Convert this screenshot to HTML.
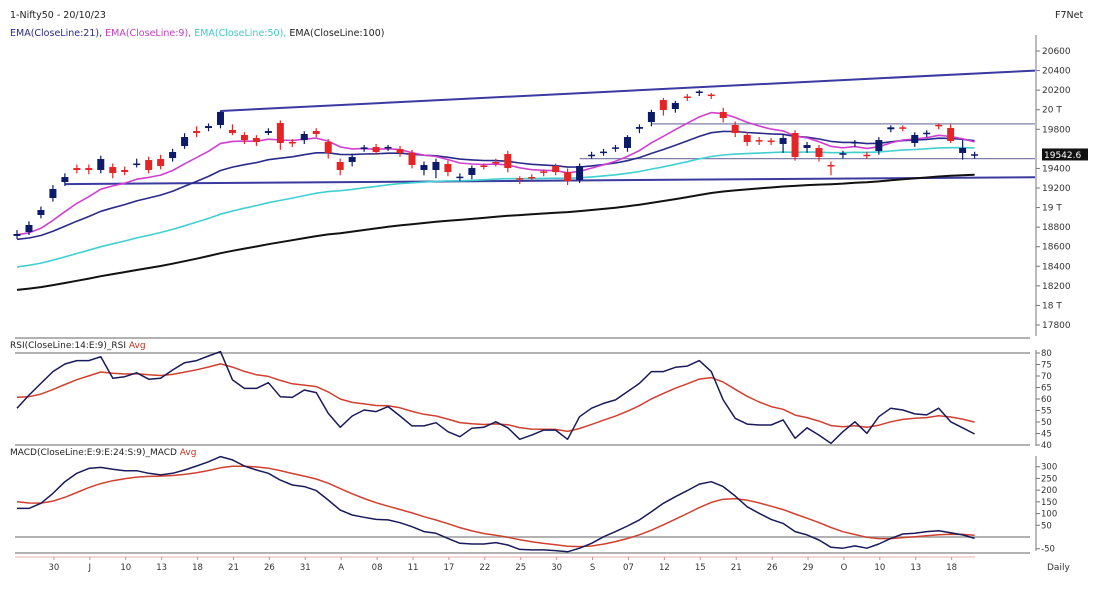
<!DOCTYPE html>
<html><head><meta charset="utf-8"><style>
html,body{margin:0;padding:0;background:#fff;}
svg{display:block;font-family:"DejaVu Sans","Liberation Sans",sans-serif;}
</style></head><body>
<svg id="c" width="1102" height="595" viewBox="0 0 1102 595">
<text x="10" y="18" font-size="9.5" fill="#222">1-Nifty50 - 20/10/23</text>
<text x="10" y="36" font-size="9.5"><tspan fill="#2a2a8a">EMA(CloseLine:21), </tspan><tspan fill="#c040c0">EMA(CloseLine:9), </tspan><tspan fill="#40c8c8">EMA(CloseLine:50), </tspan><tspan fill="#222">EMA(CloseLine:100)</tspan></text>
<text x="1055" y="18" font-size="9.5" fill="#222">F7Net</text>
<text x="10" y="348" font-size="9"><tspan fill="#222">RSI(CloseLine:14:E:9)_RSI </tspan><tspan fill="#c03020">Avg</tspan></text>
<text x="10" y="455" font-size="9"><tspan fill="#222">MACD(CloseLine:E:9:E:24:S:9)_MACD </tspan><tspan fill="#c03020">Avg</tspan></text>
<text x="1047" y="570" font-size="9" fill="#333">Daily</text>
<g id="g"></g>
</svg>
<script>
const opens=[18710,18750,18924,19098,19261,19404,19404,19384,19414,19384,19445,19486,19496,19506,19629,19782,19813,19844,19793,19742,19711,19762,19864,19670,19690,19782,19670,19466,19466,19598,19619,19605,19598,19558,19384,19384,19445,19312,19333,19430,19466,19547,19300,19312,19370,19425,19363,19282,19537,19568,19600,19609,19805,19874,20099,20007,20135,20176,20155,19977,19844,19742,19690,19685,19650,19762,19609,19609,19435,19540,19655,19540,19578,19800,19820,19660,19762,19845,19813,19558,19540];
const closes=[18730,18822,18975,19190,19312,19384,19384,19496,19353,19363,19450,19384,19425,19568,19721,19762,19833,19977,19762,19690,19670,19782,19660,19665,19752,19752,19558,19384,19517,19615,19568,19620,19558,19435,19435,19466,19363,19316,19404,19420,19462,19404,19285,19310,19355,19363,19271,19425,19540,19572,19615,19721,19823,19977,19997,20069,20125,20186,20145,19915,19762,19670,19688,19675,19711,19517,19639,19517,19432,19555,19670,19530,19690,19820,19810,19742,19765,19835,19680,19609,19545];
const highs=[18770,18860,19010,19230,19350,19440,19440,19530,19450,19420,19500,19520,19540,19600,19760,19830,19860,19990,19850,19770,19740,19810,19890,19700,19780,19810,19700,19500,19550,19640,19650,19640,19630,19590,19470,19500,19480,19350,19430,19450,19500,19580,19320,19340,19390,19450,19400,19450,19570,19600,19640,19740,19850,20000,20120,20090,20160,20200,20170,20020,19880,19770,19720,19710,19750,19790,19670,19640,19470,19580,19690,19570,19720,19840,19840,19770,19790,19860,19850,19690,19570];
const lows=[18680,18720,18890,19060,19220,19350,19340,19350,19300,19330,19410,19350,19390,19470,19600,19720,19780,19810,19740,19650,19630,19740,19590,19620,19650,19720,19500,19330,19420,19570,19540,19580,19520,19400,19330,19300,19320,19270,19290,19390,19420,19360,19240,19270,19320,19330,19230,19250,19500,19530,19570,19570,19760,19830,19940,19970,20090,20140,20110,19870,19720,19630,19640,19640,19560,19480,19560,19470,19330,19500,19620,19500,19540,19770,19780,19620,19720,19800,19660,19490,19500];
const rsiValues=[56.0,61.7,66.8,71.9,75.2,76.7,76.7,78.4,69.0,69.7,71.4,68.6,69.0,72.6,75.8,76.7,78.7,80.6,68.3,64.6,64.6,67.1,61.0,60.7,63.9,62.8,53.8,47.7,52.6,55.2,54.5,56.7,52.6,48.3,48.3,49.7,45.8,43.6,47.3,47.7,50.1,47.5,42.5,44.3,46.5,46.5,42.5,52.3,56.0,58.1,59.6,63.2,66.8,71.9,71.9,73.8,74.3,76.7,71.9,59.6,51.6,49.1,48.7,48.7,50.9,42.9,47.5,44.3,40.7,45.8,50.1,45.1,52.3,56.0,55.2,53.5,53.1,56.0,50.1,47.5,44.8];
const macdValues=[122,122,144,186,236,272,293,297,289,283,283,272,265,272,286,303,321,343,329,303,286,272,243,222,215,198,158,115,94,84,75,73,61,44,23,16,-6,-27,-30,-30,-24,-34,-53,-55,-55,-58,-63,-48,-27,1,23,47,73,108,144,172,198,226,236,215,175,129,101,75,58,23,9,-13,-44,-48,-38,-48,-30,-6,13,16,23,27,18,9,-6];
const emaSeeds=[18720,18670,18380,18147];
const emaPeriods=[9,21,50,100];
const rsiAvgSeed=62, macdAvgSeed=158;
const dateLabels=["30","J","10","13","18","21","26","31","A","08","11","17","22","25","30","S","07","12","15","21","26","29","O","10","13","18"];
const priceTicks=[20600,20400,20200,20000,19800,19400,19200,19000,18800,18600,18400,18200,18000,17800];
const priceTickLabels=["20600","20400","20200","20 T","19800","19400","19200","19 T","18800","18600","18400","18200","18 T","17800"];
const rsiTicks=[80,75,70,65,60,55,50,45,40];
const macdTicks=[300,250,200,150,100,50,-50];
const lastPrice=19542.6;

const NS="http://www.w3.org/2000/svg", G=document.getElementById('g');
const X=i=>17+i*11.97;
const yP=p=>51+(20600-p)*274/2800;
const yR=v=>353+(80-v)*92/40;
const yM=v=>537-v*82/350;
function mk(t,a,name,parent){const e=document.createElementNS(NS,t);for(const k in a)e.setAttribute(k,a[k]);


(parent||G).appendChild(e);return e;}
function ema(arr,n,seed){const a=2/(n+1);let v=seed;return arr.map(x=>v=v+a*(x-v));}
function poly(vals,fy,col,w,name){mk('polyline',{points:vals.map((v,i)=>X(i).toFixed(1)+','+fy(v).toFixed(1)).join(' '),fill:'none',stroke:col,'stroke-width':w,'stroke-linejoin':'round'},name);}

// frame lines
[[338],[353],[445],[537],[553]].forEach(([y],k)=>mk('line',{x1:15,x2:1030,y1:y,y2:y,stroke:'#999','stroke-width':1.5},'pane-border-'+k));
mk('line',{x1:1036,x2:1036,y1:35,y2:336,stroke:'#777'},'price-axis-line');
mk('line',{x1:1036,x2:1036,y1:350,y2:446,stroke:'#777'},'rsi-axis-line');
mk('line',{x1:1036,x2:1036,y1:456,y2:551,stroke:'#777'},'macd-axis-line');
priceTicks.forEach((p,k)=>{const y=yP(p);mk('line',{x1:1036,x2:1040,y1:y,y2:y,stroke:'#777'},'price-tick');
 const t=mk('text',{x:1042,y:y+3,'font-size':9,fill:'#333'},'price-tick-label');t.textContent=priceTickLabels[k];});
rsiTicks.forEach(v=>{const y=yR(v);mk('line',{x1:1036,x2:1040,y1:y,y2:y,stroke:'#777'},'rsi-tick');
 const t=mk('text',{x:1041,y:y+3,'font-size':8.5,fill:'#333'},'rsi-tick-label');t.textContent=v;});
macdTicks.forEach(v=>{const y=yM(v);mk('line',{x1:1036,x2:1040,y1:y,y2:y,stroke:'#777'},'macd-tick');
 const t=mk('text',{x:1041,y:y+3,'font-size':8.5,fill:'#333'},'macd-tick-label');t.textContent=v;});
// x axis
mk('line',{x1:15,x2:975,y1:557,y2:557,stroke:'#e8b0b0'},'x-axis-line');
dateLabels.forEach((d,k)=>{const x=X(3+3*k)+1;mk('line',{x1:x,x2:x,y1:557,y2:560,stroke:'#d09090'},'x-tick');
 const t=mk('text',{x:x,y:570,'font-size':8.5,fill:'#333','text-anchor':'middle'},'x-tick-label');t.textContent=d;});

// trend lines
mk('line',{x1:X(17),y1:yP(19977)-1,x2:1035,y2:yP(20400),stroke:'#3a3aa0','stroke-width':2},'upper-trendline');
mk('line',{x1:X(4),y1:yP(19240),x2:1035,y2:yP(19310),stroke:'#3a3aa0','stroke-width':2},'lower-trendline');
mk('line',{x1:X(53),y1:yP(19855),x2:1035,y2:yP(19855),stroke:'#8080a8','stroke-width':1.3},'resistance-line');
mk('line',{x1:X(47),y1:yP(19500),x2:1035,y2:yP(19500),stroke:'#8080a8','stroke-width':1.3},'support-line');

// EMAs
const emaCols=['#d040d0','#2a2a8a','#40d0d0','#111'];
const emaNames=['ema-9-line','ema-21-line','ema-50-line','ema-100-line'];
[3,2,1,0].forEach(k=>poly(ema(closes,emaPeriods[k],emaSeeds[k]),yP,emaCols[k],k==3?2:1.6,emaNames[k]));

// candles
closes.forEach((c,i)=>{const o=opens[i],up=c>=o,col=up?'#0c1a6a':'#e52525',x=X(i);
 mk('line',{x1:x,x2:x,y1:yP(highs[i]),y2:yP(lows[i]),stroke:col,'stroke-width':1.2},'candle-wick');
 const top=yP(Math.max(o,c)),h=Math.max(1.5,yP(Math.min(o,c))-top);
 mk('rect',{x:x-3.5,y:top,width:7,height:h,fill:col},up?'candle-up':'candle-down');});

// last price tag
const ly=yP(lastPrice);
mk('rect',{x:1042,y:ly-6,width:46,height:12,fill:'#111'},'last-price-tag');
const lt=mk('text',{x:1044,y:ly+3.5,'font-size':9,fill:'#fff'},'last-price-text');lt.textContent=lastPrice;

// RSI
poly(ema(rsiValues,9,rsiAvgSeed),yR,'#d04030',1.5,'rsi-avg-line');
poly(rsiValues,yR,'#1a1a5a',1.5,'rsi-line');
// MACD
poly(ema(macdValues,9,macdAvgSeed),yM,'#d04030',1.5,'macd-avg-line');
poly(macdValues,yM,'#1a1a5a',1.5,'macd-line');
</script>
</body></html>
